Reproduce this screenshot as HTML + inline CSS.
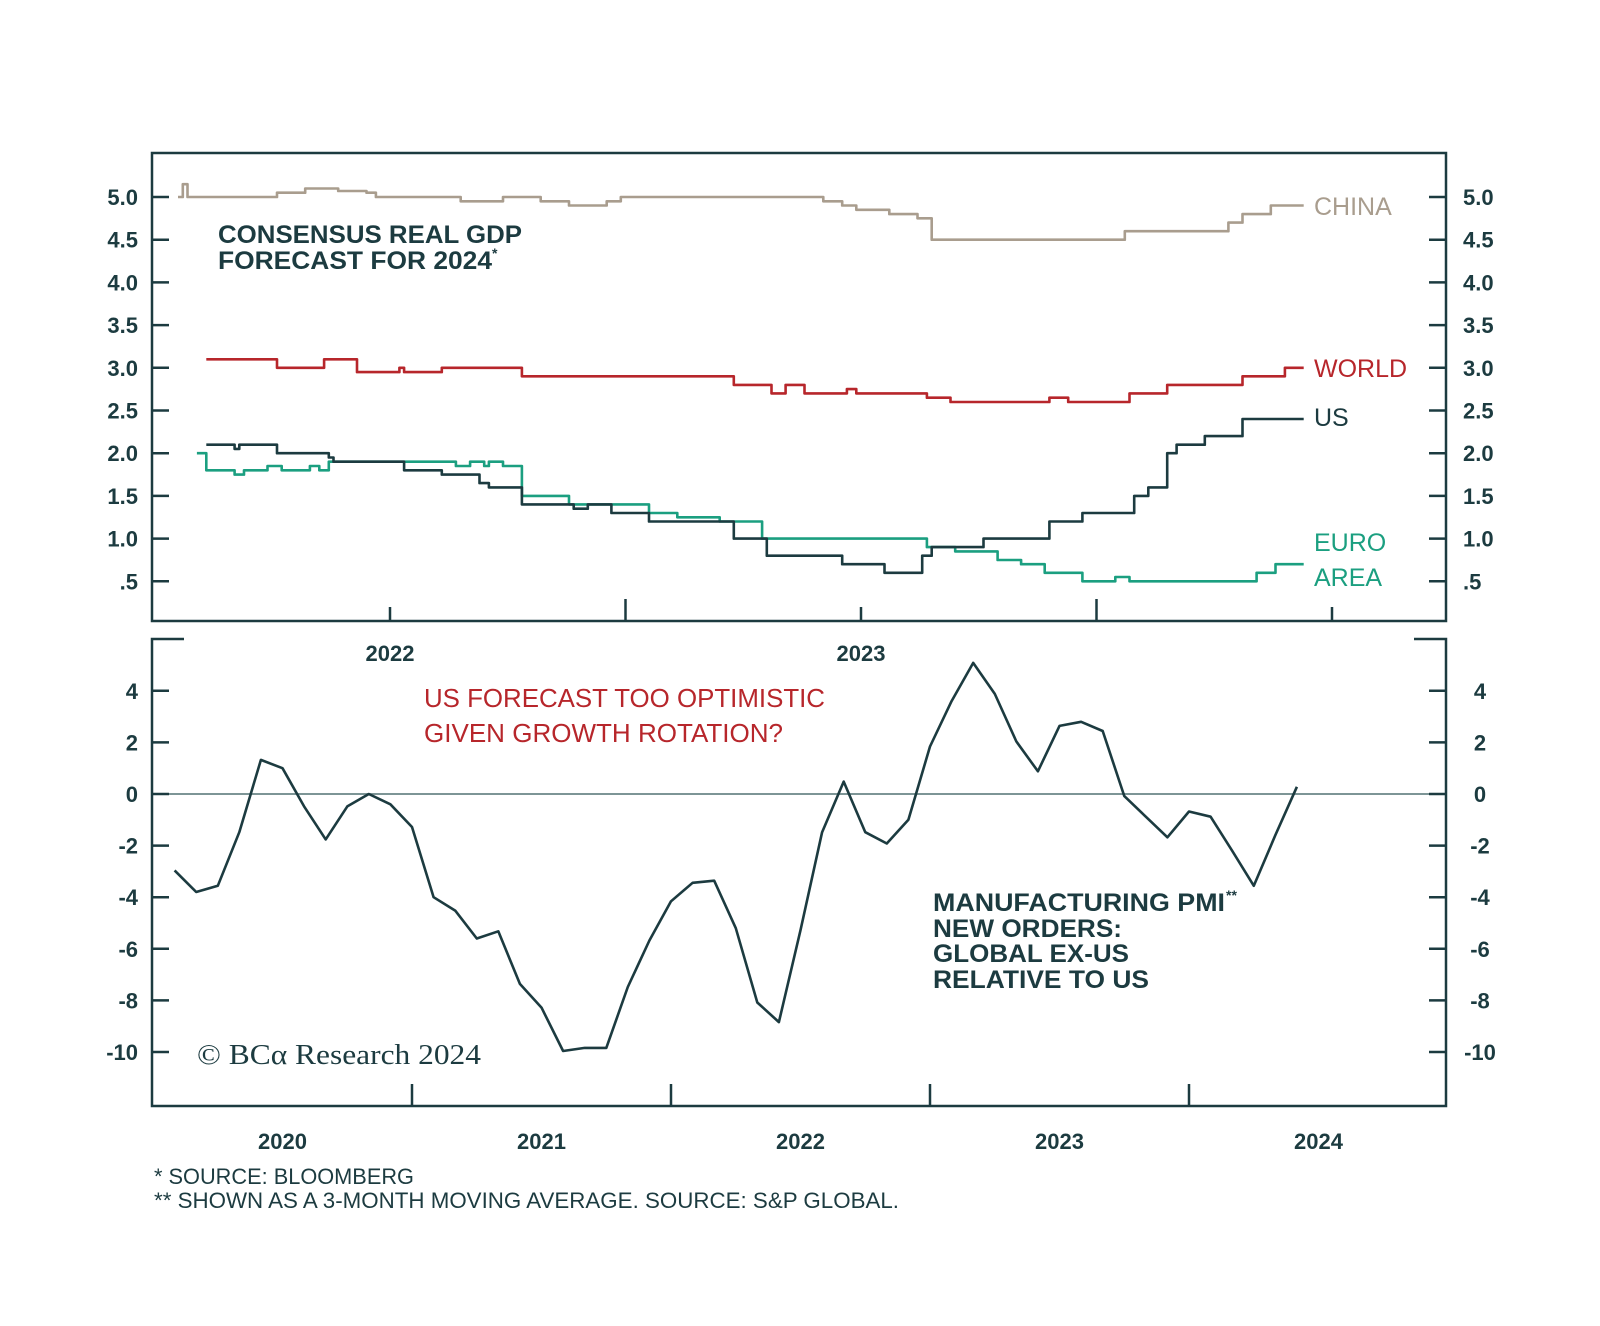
<!DOCTYPE html>
<html><head><meta charset="utf-8"><style>
html,body{margin:0;padding:0;background:#fff;}
svg{display:block;font-family:"Liberation Sans",sans-serif;}
</style></head><body>
<svg id="chart" width="1600" height="1326" viewBox="0 0 1600 1326" xmlns="http://www.w3.org/2000/svg">
<rect width="1600" height="1326" fill="#fff"/>
</svg>
<script>
// ---- Top panel data (step series: change dates in decimal years, values in %) ----
const chinaDates = [2021.55,2021.56,2021.57,2021.76,2021.82,2021.89,2021.95,2021.97,2022.15,2022.24,2022.32,2022.38,2022.46,2022.49,2022.92,2022.96,2022.99,2023.06,2023.12,2023.15,2023.56,2023.78,2023.81,2023.87,2023.94];
const chinaVals  = [5.0,5.15,5.0,5.05,5.1,5.07,5.05,5.0,4.95,5.0,4.95,4.9,4.95,5.0,4.95,4.9,4.85,4.8,4.75,4.5,4.6,4.7,4.8,4.9,4.9];
const worldDates = [2021.61,2021.76,2021.86,2021.93,2022.02,2022.03,2022.11,2022.28,2022.73,2022.81,2022.84,2022.88,2022.97,2022.99,2023.14,2023.19,2023.40,2023.44,2023.57,2023.65,2023.81,2023.90,2023.94];
const worldVals  = [3.1,3.0,3.1,2.95,3.0,2.95,3.0,2.9,2.8,2.7,2.8,2.7,2.75,2.7,2.65,2.6,2.65,2.6,2.7,2.8,2.9,3.0,3.0];
const usDates = [2021.61,2021.67,2021.68,2021.76,2021.87,2021.88,2022.03,2022.11,2022.19,2022.21,2022.28,2022.39,2022.42,2022.47,2022.55,2022.73,2022.80,2022.96,2023.05,2023.13,2023.15,2023.26,2023.40,2023.47,2023.58,2023.61,2023.65,2023.67,2023.73,2023.81,2023.94];
const usVals  = [2.1,2.05,2.1,2.0,1.95,1.9,1.8,1.75,1.65,1.6,1.4,1.35,1.4,1.3,1.2,1.0,0.8,0.7,0.6,0.8,0.9,1.0,1.2,1.3,1.5,1.6,2.0,2.1,2.2,2.4,2.4];
const euroDates = [2021.59,2021.61,2021.67,2021.69,2021.74,2021.77,2021.83,2021.85,2021.87,2022.14,2022.17,2022.20,2022.21,2022.24,2022.28,2022.38,2022.55,2022.61,2022.70,2022.79,2023.14,2023.20,2023.29,2023.34,2023.39,2023.47,2023.54,2023.57,2023.84,2023.88,2023.94];
const euroVals  = [2.0,1.8,1.75,1.8,1.85,1.8,1.85,1.8,1.9,1.85,1.9,1.85,1.9,1.85,1.5,1.4,1.3,1.25,1.2,1.0,0.9,0.85,0.75,0.7,0.6,0.5,0.55,0.5,0.6,0.7,0.7];
const topTicks = [0.5,1.0,1.5,2.0,2.5,3.0,3.5,4.0,4.5,5.0];
const topTickLabels = [".5","1.0","1.5","2.0","2.5","3.0","3.5","4.0","4.5","5.0"];
const topXTicks = [2022,2022.5,2023,2023.5,2024];
const topXLabels = ["2022","2023"];
const topXLabelPos = [2022,2023];

// ---- Bottom panel data (monthly, Feb 2020 .. Jun 2024) ----
const pmiStart = 2020 + 1/12;
const pmiVals = [-2.96,-3.8,-3.56,-1.48,1.32,1.0,-0.48,-1.76,-0.48,0,-0.4,-1.28,-4.0,-4.52,-5.6,-5.32,-7.36,-8.28,-9.96,-9.84,-9.84,-7.48,-5.68,-4.16,-3.44,-3.36,-5.2,-8.08,-8.84,-5.28,-1.48,0.48,-1.48,-1.92,-1.0,1.84,3.6,5.08,3.88,2.04,0.88,2.64,2.8,2.44,-0.08,-0.88,-1.68,-0.68,-0.88,-2.2,-3.56,-1.6,0.28];
const botTicks = [4,2,0,-2,-4,-6,-8,-10];
const botTickLabels = ["4","2","0","-2","-4","-6","-8","-10"];
const botXTicks = [2021,2022,2023,2024];
const botXLabels = ["2020","2021","2022","2023","2024"];
const botXLabelPos = [2020.5,2021.5,2022.5,2023.5,2024.5];

const NS='http://www.w3.org/2000/svg';
const svg=document.getElementById('chart');
const DARK='#1c3b40', CHINA='#a99d8e', RED='#b7262b', GREEN='#1b9f80';
function mk(tag,attrs,parent){const e=document.createElementNS(NS,tag);for(const k in attrs)e.setAttribute(k,attrs[k]);(parent||svg).appendChild(e);return e;}
function txt(s,attrs){const e=mk('text',attrs);e.textContent=s;return e;}

const L=152,R=1446;
const tx=t=>390+(t-2022)*471;
const ty=v=>197+(5-v)*85.4;
const bx=t=>412+(t-2021)*259;
const by=v=>794-v*25.8;

let f=mk('rect',{x:L,y:153,width:R-L,height:468,fill:'none',stroke:DARK,'stroke-width':2.5});

topTicks.forEach((v,i)=>{
  let a=mk('line',{x1:L,x2:L+17,y1:ty(v),y2:ty(v),stroke:DARK,'stroke-width':2.5});
  
  let b=mk('line',{x1:R-17,x2:R,y1:ty(v),y2:ty(v),stroke:DARK,'stroke-width':2.5});
  
  let t1=txt(topTickLabels[i],{x:138,y:ty(v)+8,'text-anchor':'end','font-size':22,'font-weight':'bold',fill:DARK});
  
  let t2=txt(topTickLabels[i],{x:1463,y:ty(v)+8,'font-size':22,'font-weight':'bold',fill:DARK});
  
});
topXTicks.forEach((t,i)=>{
  let h=(i%2==1)?22:14;
  let a=mk('line',{x1:tx(t),x2:tx(t),y1:621-h,y2:621,stroke:DARK,'stroke-width':2.5});
  
});
topXLabels.forEach((s,i)=>{
  let e=txt(s,{x:tx(topXLabelPos[i]),y:661,'text-anchor':'middle','font-size':22,'font-weight':'bold',fill:DARK});
  
});
function stepPath(d,v){let p='';for(let i=0;i<d.length;i++){const x=tx(d[i]).toFixed(1),y=ty(v[i]).toFixed(1);if(i==0)p+='M'+x+','+y;else p+='H'+x+'V'+y;}return p;}
[[chinaDates,chinaVals,CHINA,'china-line'],[worldDates,worldVals,RED,'world-line'],[euroDates,euroVals,GREEN,'euro-area-line'],[usDates,usVals,DARK,'us-line']].forEach(s=>{
  let p=mk('path',{d:stepPath(s[0],s[1]),fill:'none',stroke:s[2],'stroke-width':2.6,'stroke-linejoin':'round'});
  
});
function lab(s,x,y,c,n,size,w){let e=txt(s,{x:x,y:y,'font-size':size||25,'font-weight':w||'normal',fill:c});return e;}
lab('CHINA',1314,215,CHINA,'china-label');
lab('WORLD',1314,377,RED,'world-label');
lab('US',1314,426,DARK,'us-label');
lab('EURO',1314,551,GREEN,'euro-label');
lab('AREA',1314,586,GREEN,'area-label');
lab('CONSENSUS REAL GDP',218,243,DARK,'top-title-line1',25,'bold').setAttribute('textLength','304');
lab('FORECAST FOR 2024',218,269,DARK,'top-title-line2',25,'bold').setAttribute('textLength','274');
lab('*',492,258,DARK,'top-title-asterisk',14,'bold');

let bf=mk('path',{d:`M${L+32},639H${L}V1106H${R}V639H${R-32}`,fill:'none',stroke:DARK,'stroke-width':2.5});

let z=mk('line',{x1:L,x2:R,y1:by(0),y2:by(0),stroke:'#7d9596','stroke-width':2});

botTicks.forEach((v,i)=>{
  let a=mk('line',{x1:L,x2:L+17,y1:by(v),y2:by(v),stroke:DARK,'stroke-width':2.5});
  
  let b=mk('line',{x1:R-17,x2:R,y1:by(v),y2:by(v),stroke:DARK,'stroke-width':2.5});
  
  let t1=txt(botTickLabels[i],{x:138,y:by(v)+8,'text-anchor':'end','font-size':22,'font-weight':'bold',fill:DARK});
  
  let t2=txt(botTickLabels[i],{x:1480,y:by(v)+8,'text-anchor':'middle','font-size':22,'font-weight':'bold',fill:DARK});
  
});
botXTicks.forEach(t=>{
  let a=mk('line',{x1:bx(t),x2:bx(t),y1:1084,y2:1106,stroke:DARK,'stroke-width':2.5});
  
});
botXLabels.forEach((s,i)=>{
  let e=txt(s,{x:bx(botXLabelPos[i]),y:1149,'text-anchor':'middle','font-size':22,'font-weight':'bold',fill:DARK});
  
});
let pts=pmiVals.map((v,i)=>bx(pmiStart+i/12).toFixed(1)+','+by(v).toFixed(1)).join(' ');
let pl=mk('polyline',{points:pts,fill:'none',stroke:DARK,'stroke-width':2.6,'stroke-linejoin':'round'});


lab('US FORECAST TOO OPTIMISTIC',424,707,RED,'annotation-line1',26).setAttribute('textLength','401');
lab('GIVEN GROWTH ROTATION?',424,742,RED,'annotation-line2',26).setAttribute('textLength','359');
lab('MANUFACTURING PMI',933,911,DARK,'pmi-title-line1',25,'bold').setAttribute('textLength','292');
lab('**',1226,900,DARK,'pmi-title-asterisk',14,'bold');
lab('NEW ORDERS:',933,937,DARK,'pmi-title-line2',25,'bold').setAttribute('textLength','189');
lab('GLOBAL EX-US',933,962,DARK,'pmi-title-line3',25,'bold').setAttribute('textLength','196');
lab('RELATIVE TO US',933,988,DARK,'pmi-title-line4',25,'bold').setAttribute('textLength','216');
let c=txt('© BCα Research 2024',{x:197,y:1064,'font-size':28,fill:DARK,'font-family':'Liberation Serif, serif',textLength:284});

lab('* SOURCE: BLOOMBERG',154,1184,DARK,'footnote-1',22).setAttribute('textLength','260');
lab('** SHOWN AS A 3-MONTH MOVING AVERAGE. SOURCE: S&P GLOBAL.',154,1208,DARK,'footnote-2',22).setAttribute('textLength','745');
svg.querySelectorAll('[textLength]').forEach(e=>e.setAttribute('lengthAdjust','spacingAndGlyphs'));
</script>
</body></html>
